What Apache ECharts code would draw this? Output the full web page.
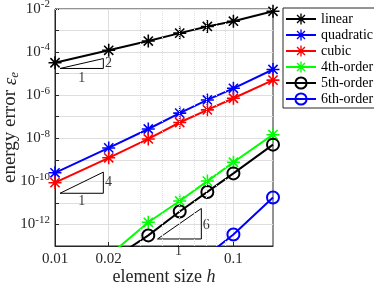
<!DOCTYPE html>
<html><head><meta charset="utf-8">
<script src="https://cdn.jsdelivr.net/npm/echarts@6/dist/echarts.min.js"></script>
<style>html,body{margin:0;padding:0;background:#fff}#c{width:374px;height:285px}</style>
</head><body><div id="c"></div>
<script>
// element sizes h
const hValues = [1/100, 1/50, 1/30, 1/20, 1/14, 1/10, 1/6];
// energy errors per order (null = not computed)
const linear    = [3.2e-5, 1.21e-4, 3.25e-4, 7.6e-4, 1.55e-3, 2.71e-3, 7.8e-3];
const quadratic = [2.5e-10, 3.57e-9, 2.69e-8, 1.47e-7, 6.0e-7, 2.08e-6, 1.56e-5];
const cubic     = [8.7e-11, 1.24e-9, 9.3e-9, 5.4e-8, 2.08e-7, 7.2e-7, 5.0e-6];
const order4    = [null, 3.5e-14, 1.26e-12, 1.23e-11, 1.03e-10, 7.7e-10, 1.47e-8];
const order5    = [null, 1.9e-14, 3.1e-13, 4.0e-12, 3.23e-11, 2.34e-10, 5.07e-9];
const order6    = [null, null, null, null, 3.8e-14, 3.4e-13, 1.78e-11];
const seriesNames = ['linear', 'quadratic', 'cubic', '4th-order', '5th-order', '6th-order'];
// axis ticks
const xTickValues = [0.01, 0.02, 0.1];
const yTickValues = [1e-13, 1e-12, 1e-11, 1e-10, 1e-9, 1e-8, 1e-7, 1e-6, 1e-5, 1e-4, 1e-3, 1e-2];
const yLabelValues = [1e-12, 1e-10, 1e-8, 1e-6, 1e-4, 1e-2];
// slope triangles (data coords)
const tri1 = [[0.01067, 1.74e-5], [0.01866, 1.74e-5], [0.01866, 5.0e-5], [0.01067, 1.74e-5]];
const tri2 = [[0.01067, 2.8e-11], [0.01866, 2.8e-11], [0.01866, 2.69e-10], [0.01067, 2.8e-11]];
const tri3 = [[0.03756, 2.12e-13], [0.0661, 2.12e-13], [0.0661, 5.52e-12], [0.03756, 2.12e-13]];
const slopeLabels = [[0.01993, 3.15e-5, '2'], [0.01413, 6.0e-6, '1'],
                     [0.01993, 8.7e-11, '4'], [0.01413, 1.24e-11, '1'],
                     [0.0705, 9.4e-13, '6'], [0.04928, 5.5e-14, '1']];

const serif = "'Liberation Serif','DejaVu Serif',serif";
const axisColor = '#262626';
const star = 'path://M-1.2,-10L1.2,-10L1.2,10L-1.2,10Z M-10,-1.2L10,-1.2L10,1.2L-10,1.2Z M-7.92,-6.22L-6.22,-7.92L7.92,6.22L6.22,7.92Z M-6.22,7.92L-7.92,6.22L6.22,-7.92L7.92,-6.22Z';

function mk(name, vals, color, sym) {
  const isStar = sym === 'star';
  return {
    name: name, type: 'line',
    data: hValues.map((h, i) => [h, vals[i]]).filter(p => p[1] != null),
    symbol: isStar ? star : 'circle', symbolSize: isStar ? 13 : 12,
    showAllSymbol: true,
    lineStyle: { color: color, width: 2 },
    itemStyle: isStar ? { color: color } : { color: 'rgba(255,255,255,0)', borderColor: color, borderWidth: 2 },
    clip: true, z: 3
  };
}

// minor grid values
const minorY = [];
for (let k = -13; k < -2; k++) for (let m = 2; m <= 9; m++) minorY.push(m * Math.pow(10, k));
const minorX = [0.03, 0.04, 0.05, 0.06, 0.07, 0.08, 0.09];

function triSeries(d) {
  return { type: 'line', data: d, symbol: 'none', lineStyle: { color: '#000', width: 1 }, silent: true, z: 2, clip: false };
}

const chart = echarts.init(document.getElementById('c'), null, { renderer: 'canvas' });
chart.setOption({
  animation: false,
  backgroundColor: '#fff',
  grid: { left: 55, right: 101, top: 9, bottom: 39, containLabel: false, outerBoundsMode: 'none',
          show: true, borderColor: axisColor, borderWidth: 1, backgroundColor: 'transparent' },
  legend: {
    data: seriesNames, orient: 'vertical', left: 283, top: 8,
    padding: [4, 3, 2, 2], itemGap: 2, itemWidth: 30, itemHeight: 14,
    borderColor: axisColor, borderWidth: 1, backgroundColor: '#fff',
    textStyle: { fontFamily: serif, fontSize: 14, color: '#000' }
  },
  xAxis: {
    type: 'log', logBase: 10, min: 0.01, max: 1/6,
    axisLine: { show: true, lineStyle: { color: axisColor } },
    axisTick: { show: true, inside: true, length: 4, customValues: xTickValues, lineStyle: { color: axisColor } },
    axisLabel: { customValues: xTickValues, formatter: v => String(+(+v).toPrecision(3)), fontFamily: serif, fontSize: 15, color: axisColor, margin: 6 },
    splitLine: { show: true, lineStyle: { color: '#dedede' } },
    name: 'element size {i|h}', nameLocation: 'middle', nameGap: 22, nameMoveOverlap: false,
    nameTextStyle: { fontFamily: serif, fontSize: 18, color: axisColor, rich: { i: { fontFamily: serif, fontStyle: 'italic', fontSize: 18, color: axisColor } } }
  },
  yAxis: {
    type: 'log', logBase: 10, min: 1e-13, max: 1e-2,
    axisLine: { show: true, lineStyle: { color: axisColor } },
    axisTick: { show: true, inside: true, length: 4, customValues: yTickValues, lineStyle: { color: axisColor } },
    splitLine: { show: true, lineStyle: { color: '#dedede' } },
    axisLabel: {
      margin: 5, customValues: yLabelValues,
      formatter: v => '{b|10}{s|' + Math.round(Math.log10(v)) + '}',
      rich: {
        b: { fontFamily: serif, fontSize: 15, color: axisColor },
        s: { fontFamily: serif, fontSize: 11, color: axisColor, padding: [0, 0, 9, 0] }
      }
    },
    name: 'energy error {i|ε}{sub|e}', nameLocation: 'middle', nameGap: 34, nameMoveOverlap: false,
    nameTextStyle: { fontFamily: serif, fontSize: 19, color: axisColor,
      rich: { i: { fontFamily: serif, fontStyle: 'italic', fontSize: 19, color: axisColor },
              sub: { fontFamily: serif, fontStyle: 'italic', fontSize: 13, color: axisColor, padding: [8, 0, 0, 0] } } }
  },
  series: [
    { type: 'line', data: [], silent: true, z: 1,
      markLine: { silent: true, symbol: ['none', 'none'], label: { show: false },
        lineStyle: { color: '#e0e0e0', type: 'dotted', width: 1 },
        data: minorY.map(v => ({ yAxis: v })).concat(minorX.map(v => ({ xAxis: v }))) } },
    mk(seriesNames[0], linear, '#000000', 'star'),
    mk(seriesNames[1], quadratic, '#0000ff', 'star'),
    mk(seriesNames[2], cubic, '#ff0000', 'star'),
    mk(seriesNames[3], order4, '#00ff00', 'star'),
    mk(seriesNames[4], order5, '#000000', 'circle'),
    mk(seriesNames[5], order6, '#0000ff', 'circle'),
    triSeries(tri1), triSeries(tri2), triSeries(tri3),
    { type: 'scatter', silent: true, clip: false, symbolSize: 1, itemStyle: { color: 'rgba(0,0,0,0)' },
      data: slopeLabels.map(d => ({ value: [d[0], d[1]], name: d[2] })),
      label: { show: true, position: 'inside', formatter: p => p.name, fontFamily: serif, fontSize: 14, color: '#000' }, z: 4 }
  ]
});
</script></body></html>
